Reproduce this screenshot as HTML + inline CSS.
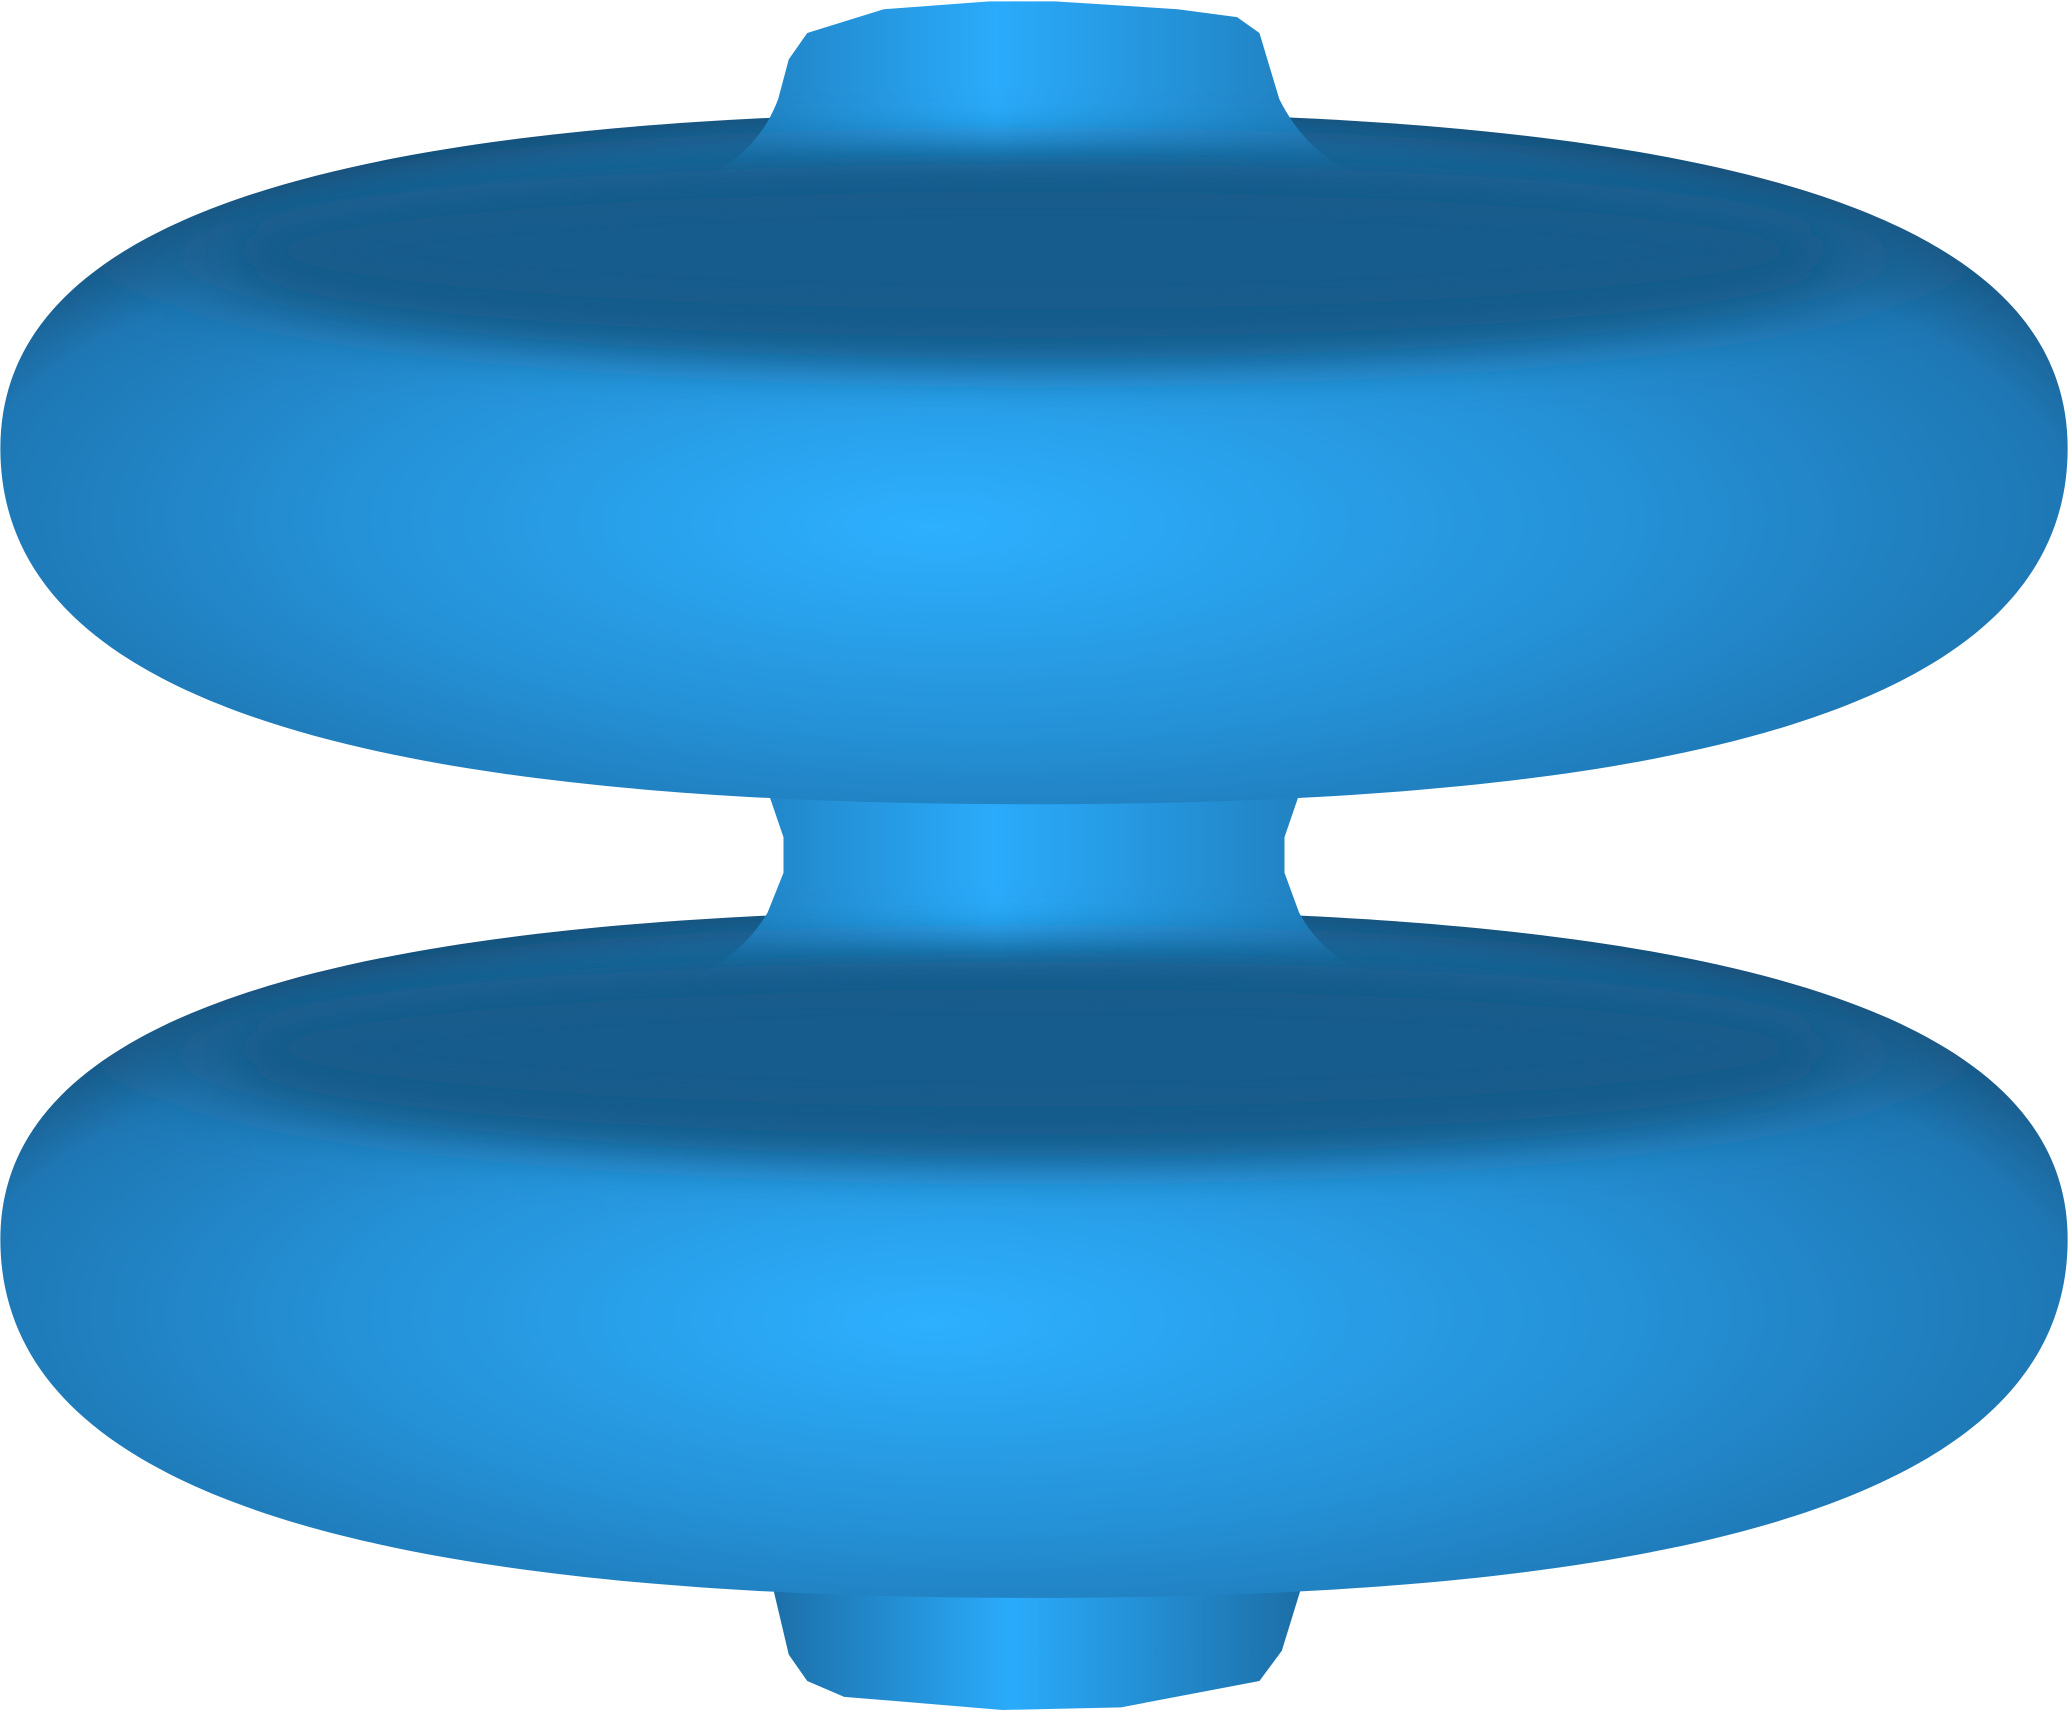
<!DOCTYPE html>
<html><head><meta charset="utf-8"><style>
html,body{margin:0;padding:0;background:#fff;width:2068px;height:1710px;overflow:hidden}
svg{display:block}
</style></head><body>
<svg width="2068" height="1710" viewBox="0 0 1568 1297" xmlns="http://www.w3.org/2000/svg">
<defs>
<radialGradient id="torusFill" cx="0.5" cy="0.58" r="0.6" fx="0.45" fy="0.6">
<stop offset="0" stop-color="#2db0ff"/>
<stop offset="0.5" stop-color="#2592d8"/>
<stop offset="0.85" stop-color="#1e77b4"/>
<stop offset="1" stop-color="#174f78"/>
</radialGradient>
<radialGradient id="bandFill" cx="0.5" cy="0.5" r="0.5">
<stop offset="0" stop-color="#175c8c"/>
<stop offset="0.8" stop-color="#185d8c"/>
<stop offset="1" stop-color="#1b679a" stop-opacity="0"/>
</radialGradient>
<linearGradient id="neckFill" x1="0" y1="0" x2="1" y2="0">
<stop offset="0" stop-color="#1c6fa8"/>
<stop offset="0.45" stop-color="#2aabfb"/>
<stop offset="1" stop-color="#1c6ea6"/>
</linearGradient>
<filter id="blur" x="-20%" y="-50%" width="140%" height="200%"><feGaussianBlur stdDeviation="16"/></filter>
<clipPath id="clipUpper"><path d="M0,340 C0,150 300,85 784,85 C1268,85 1568,150 1568,340 C1568,540 1268,610 784,610 C300,610 0,540 0,340 Z"/><path d="M612,25 L670,7 L750,1 L800,1 L893,7 L938,13 L955,25 L970,75 C990,115 1020,135 1090,160 L480,160 C545,135 575,115 590,75 L598,45 Z"/></clipPath>
<clipPath id="clipLower"><path d="M0,940 C0,755 300,690 784,690 C1268,690 1568,755 1568,940 C1568,1140 1268,1212 784,1212 C300,1212 0,1140 0,940 Z"/><path d="M582,600 L594,635 L594,662 L582,692 C560,730 520,748 470,760 L1100,760 C1045,748 1005,730 985,692 L974,662 L974,635 L986,600 Z"/></clipPath>
</defs>

<g>
<path d="M585,1200 L598,1255 L612,1275 L640,1287 L760,1297 L850,1295 L955,1275 L972,1252 L988,1200 Z" fill="url(#neckFill)"/>
</g>

<g>
<path d="M0,940 C0,755 300,690 784,690 C1268,690 1568,755 1568,940 C1568,1140 1268,1212 784,1212 C300,1212 0,1140 0,940 Z" fill="url(#torusFill)"/>
</g>

<g>
<path d="M582,600 L594,635 L594,662 L582,692 C560,730 520,748 470,760 L1100,760 C1045,748 1005,730 985,692 L974,662 L974,635 L986,600 Z" fill="url(#neckFill)"/>
</g>
<g clip-path="url(#clipLower)">
<ellipse cx="784" cy="800" rx="740" ry="95" fill="url(#bandFill)" filter="url(#blur)"/>
<ellipse cx="784" cy="795" rx="600" ry="55" fill="#175c8c" filter="url(#blur)"/>
</g>

<g>
<path d="M0,340 C0,150 300,85 784,85 C1268,85 1568,150 1568,340 C1568,540 1268,610 784,610 C300,610 0,540 0,340 Z" fill="url(#torusFill)"/>
</g>

<g>
<path d="M612,25 L670,7 L750,1 L800,1 L893,7 L938,13 L955,25 L970,75 C990,115 1020,135 1090,160 L480,160 C545,135 575,115 590,75 L598,45 Z" fill="url(#neckFill)"/>
</g>
<g clip-path="url(#clipUpper)">
<ellipse cx="784" cy="195" rx="740" ry="95" fill="url(#bandFill)" filter="url(#blur)"/>
<ellipse cx="784" cy="190" rx="600" ry="55" fill="#175c8c" filter="url(#blur)"/>
</g>
</svg>
</body></html>
